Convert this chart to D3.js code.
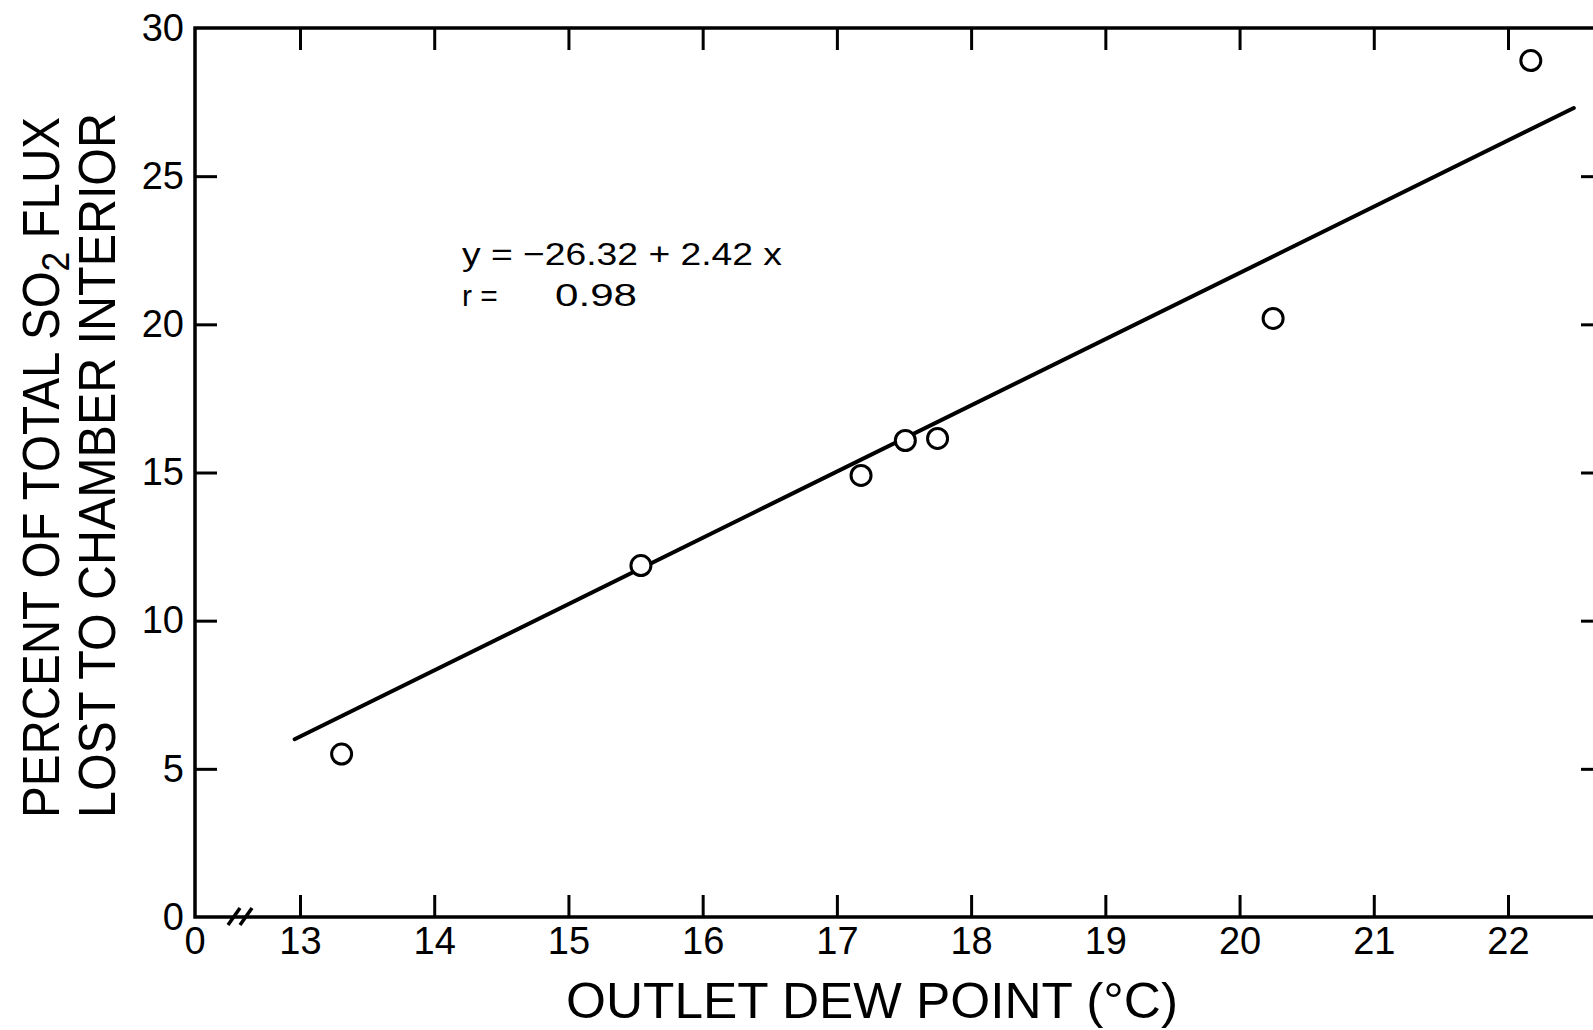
<!DOCTYPE html>
<html>
<head>
<meta charset="utf-8">
<script src="https://cdn.jsdelivr.net/npm/d3@7"></script>
<style>
  body { margin: 0; background: #fff; }
  svg { display: block; font-family: "Liberation Sans", "DejaVu Sans", sans-serif; }
</style>
</head>
<body>
<script>
// values
const dewPoint = [13.31, 15.54, 17.18, 17.51, 17.75, 20.25, 22.17];
const lostPct  = [5.5, 11.86, 14.9, 16.08, 16.15, 20.2, 28.9];
const fitX = [12.96, 22.49];
const fitY = [6.0, 27.3];
const xTicks = [13, 14, 15, 16, 17, 18, 19, 20, 21, 22];
const yTicks = [0, 5, 10, 15, 20, 25, 30];
const sideTicks = [5, 10, 15, 20, 25];
const eqText = "y = −26.32 + 2.42 x";
const rText = "0.98";

const width = 1593, height = 1030;
const padL = 195, padR = 1603, padT = 28, padB = 917;

const x = d3.scaleLinear().domain([13, 22]).range([300, 1508]);
const y = d3.scaleLinear().domain([0, 30]).range([padB, padT]);

const svg = d3.select("body").append("svg")
    .attr("width", width)
    .attr("height", height);

// frame
svg.append("rect")
    .attr("x", padL).attr("y", padT)
    .attr("width", padR - padL).attr("height", padB - padT)
    .attr("fill", "none").attr("stroke", "#000").attr("stroke-width", 3.5);

// bottom axis: ticks pointing in, labels below
const gx = svg.append("g")
    .attr("transform", `translate(0,${padB})`)
    .call(d3.axisBottom(x).tickValues(xTicks).tickSizeInner(-22).tickSizeOuter(0).tickPadding(10).tickFormat(d3.format("d")));
gx.select(".domain").remove();
gx.selectAll(".tick line").attr("stroke-width", 3);
gx.selectAll(".tick text").attr("font-size", 38).attr("fill", "#000");

// "0" at the origin and the axis break
svg.append("text")
    .attr("x", padL).attr("y", padB + 10).attr("dy", "0.71em")
    .attr("text-anchor", "middle").attr("font-size", 38).text("0");
svg.append("g").selectAll("line").data([0, 12]).join("line")
    .attr("x1", d => 228 + d).attr("y1", padB + 8)
    .attr("x2", d => 240 + d).attr("y2", padB - 9)
    .attr("stroke", "#000").attr("stroke-width", 3.5);

// top axis ticks
const gt = svg.append("g")
    .attr("transform", `translate(0,${padT})`)
    .call(d3.axisTop(x).tickValues(xTicks).tickSizeInner(-22).tickSizeOuter(0).tickFormat(""));
gt.select(".domain").remove();
gt.selectAll(".tick line").attr("stroke-width", 3);

// left axis: labels plus short inward ticks
const gy = svg.append("g")
    .attr("transform", `translate(${padL},0)`)
    .call(d3.axisLeft(y).tickValues(yTicks).tickSize(0).tickPadding(11));
gy.select(".domain").remove();
gy.selectAll(".tick text").attr("font-size", 38).attr("fill", "#000");

const gl = svg.append("g")
    .attr("transform", `translate(${padL},0)`)
    .call(d3.axisLeft(y).tickValues(sideTicks).tickSizeInner(-22).tickSizeOuter(0).tickFormat(""));
gl.select(".domain").remove();
gl.selectAll(".tick line").attr("stroke-width", 3);

// right axis ticks
const gr = svg.append("g")
    .attr("transform", `translate(${padR},0)`)
    .call(d3.axisRight(y).tickValues(sideTicks).tickSizeInner(-22).tickSizeOuter(0).tickFormat(""));
gr.select(".domain").remove();
gr.selectAll(".tick line").attr("stroke-width", 3);

// regression line
svg.append("line")
    .attr("x1", x(fitX[0])).attr("y1", y(fitY[0]))
    .attr("x2", x(fitX[1])).attr("y2", y(fitY[1]))
    .attr("stroke", "#000").attr("stroke-width", 4).attr("stroke-linecap", "round");

// points
svg.append("g").selectAll("circle")
    .data(dewPoint.map((d, i) => [d, lostPct[i]]))
    .join("circle")
    .attr("cx", d => x(d[0])).attr("cy", d => y(d[1]))
    .attr("r", 10)
    .attr("fill", "#fff").attr("stroke", "#000").attr("stroke-width", 3);

// equation
svg.append("text")
    .attr("x", 462).attr("y", 265)
    .attr("font-size", 32)
    .attr("textLength", 320).attr("lengthAdjust", "spacingAndGlyphs")
    .text(eqText);
svg.append("text")
    .attr("x", 462).attr("y", 306)
    .attr("font-size", 30)
    .text("r =");
svg.append("text")
    .attr("x", 555).attr("y", 306)
    .attr("font-size", 32)
    .attr("textLength", 82).attr("lengthAdjust", "spacingAndGlyphs")
    .text(rText);

// x title
svg.append("text")
    .attr("x", 566).attr("y", 1018)
    .attr("font-size", 50)
    .attr("textLength", 612).attr("lengthAdjust", "spacingAndGlyphs")
    .text("OUTLET DEW POINT (°C)");

// y title, two lines
const t1 = svg.append("text")
    .attr("transform", "translate(59,818) rotate(-90)")
    .attr("font-size", 51)
    .attr("textLength", 701).attr("lengthAdjust", "spacingAndGlyphs");
t1.append("tspan").text("PERCENT OF TOTAL SO");
t1.append("tspan").attr("dy", 10).attr("font-size", 38).text("2");
t1.append("tspan").attr("dy", -10).text(" FLUX");

svg.append("text")
    .attr("transform", "translate(115,818) rotate(-90)")
    .attr("font-size", 51)
    .attr("textLength", 705).attr("lengthAdjust", "spacingAndGlyphs")
    .text("LOST TO CHAMBER INTERIOR");
</script>
</body>
</html>
